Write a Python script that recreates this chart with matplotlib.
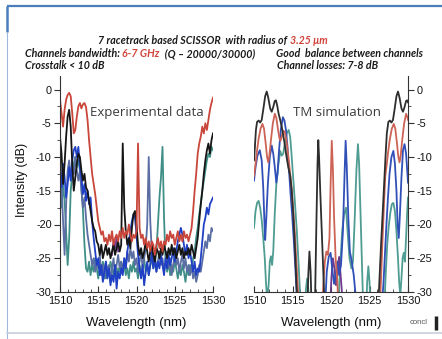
import numpy as np
import matplotlib
matplotlib.use("Agg")
import matplotlib.pyplot as plt
from matplotlib.ticker import MultipleLocator
from matplotlib.transforms import offset_copy

plt.rcParams['axes.unicode_minus'] = False
plt.rcParams['font.family'] = ['Liberation Sans', 'DejaVu Sans']

wl = np.linspace(1510, 1530, 101)

exp_red = [-1.5, -3.5, -5.5, -3.0, -1.5, -0.8, -0.5, -1.0, -3.5, -6.5,
           -6.0, -4.0, -2.5, -2.0, -2.8, -2.2, -2.0, -2.6, -4.5, -7.5,
           -10.0, -12.5, -14.0, -15.5, -17.5, -19.5, -20.5, -21.5, -21.0, -22.5,
           -22.0, -23.0, -21.5, -22.5, -21.0, -23.0, -22.0, -21.5, -22.5, -21.0,
           -22.0, -20.5, -22.0, -21.0, -21.5, -20.0, -21.5, -22.5, -21.5, -22.0,
           -21.0, -8.0, -20.5, -22.0, -21.5, -23.0, -22.0, -23.5, -22.5, -24.0,
           -22.5, -23.0, -24.5, -23.0, -22.0, -23.5, -22.5, -24.0, -22.5, -23.0,
           -21.5, -22.5, -21.0, -22.0, -21.5, -23.0, -22.0, -21.0, -22.5, -21.5,
           -22.5, -21.0, -22.0, -21.5, -22.5, -21.5, -20.5, -18.0, -15.0, -12.5,
           -9.5, -8.0, -7.0, -5.5, -6.5, -5.0, -6.0, -4.5, -3.0, -2.0,
           -1.2]

exp_black = [-7.0, -9.5, -14.0, -11.0, -7.0, -4.0, -3.0, -5.5, -11.0, -15.0,
             -13.0, -11.0, -9.5, -10.0, -12.0, -13.5, -12.5, -14.5, -15.0, -16.5,
             -18.0, -19.5, -20.5, -21.0, -22.5, -23.0, -24.5, -23.0, -25.0, -24.0,
             -23.0, -24.5, -23.5, -25.0, -24.0, -23.0, -24.5, -23.5, -22.5, -24.0,
             -23.0, -8.0, -17.5, -21.0, -23.0, -22.0, -23.5, -20.5, -18.5, -18.0,
             -20.0, -23.0, -24.5, -23.5, -25.0, -24.0, -22.5, -24.0, -25.5, -24.0,
             -23.0, -24.5, -25.5, -23.5, -24.0, -25.0, -23.5, -24.5, -23.0, -24.0,
             -25.0, -23.5, -24.5, -23.0, -24.5, -23.5, -25.0, -24.0, -23.0, -24.5,
             -23.5, -25.0, -24.0, -24.5, -23.5, -24.5, -23.0, -24.0, -25.0, -23.5,
             -22.0, -19.5, -17.0, -15.0, -12.5, -10.5, -9.0, -8.0, -9.5, -7.5,
             -6.5]

exp_blue = [-12.0, -14.5, -11.0, -13.0, -16.0, -14.0, -11.5, -13.5, -10.5, -9.0,
            -8.5, -10.0, -8.5, -11.5, -13.0, -15.5, -14.0, -16.5, -15.0, -17.0,
            -16.0, -19.5, -22.0, -24.0, -26.0, -25.0, -27.5, -26.0, -28.5, -27.0,
            -25.5, -28.0, -26.5, -29.0, -27.5, -28.5, -26.0, -29.5, -27.0, -28.0,
            -26.5, -27.5, -25.0, -26.5, -24.0, -22.5, -21.0, -19.5, -18.5, -19.0,
            -21.5, -24.5, -26.5, -28.0, -26.0, -29.0, -27.0, -25.5, -27.5, -26.0,
            -24.0, -26.5, -25.0, -27.0, -25.5, -26.5, -24.5, -26.0, -27.5, -25.0,
            -26.5, -24.5, -26.0, -25.0, -23.5, -25.5, -24.0, -22.5, -21.5, -20.5,
            -21.5, -23.0, -24.5, -23.0, -25.0, -24.0, -25.5, -27.0, -25.5, -27.5,
            -26.5, -27.0, -25.0, -22.5, -20.0, -19.0, -17.5, -18.5, -17.0, -16.5,
            -16.0]

exp_slate = [-11.0, -14.0, -19.5, -24.5, -17.0, -12.0, -10.5, -13.0, -11.5, -12.5,
             -10.0, -12.0, -13.5, -12.0, -15.0, -17.5, -16.0, -19.0, -21.5, -23.0,
             -24.5, -26.0, -25.0, -27.0, -25.5, -26.5, -24.5, -27.5, -26.0, -28.0,
             -25.5, -27.0, -26.0, -28.5, -26.5, -25.0, -27.5, -26.0, -24.5, -26.5,
             -25.5, -27.0, -25.0, -26.5, -24.0, -25.5, -23.5, -25.0, -24.0, -26.0,
             -25.0, -27.0, -25.5, -24.0, -26.5, -25.0, -23.5, -20.0, -10.0, -19.5,
             -24.0, -26.0, -24.5, -27.0, -25.5, -24.0, -26.0, -25.0, -27.0, -25.5,
             -24.0, -26.5, -25.0, -27.5, -26.0, -24.5, -26.0, -25.0, -27.0, -25.5,
             -24.5, -26.5, -25.0, -27.0, -26.0, -27.5, -26.0, -28.0, -27.0, -28.5,
             -27.5, -26.0, -27.0, -25.5, -24.0, -22.5, -23.5, -21.5, -22.5, -20.5,
             -21.0]

exp_teal = [-15.0, -17.5, -14.0, -16.5, -21.0, -26.0, -22.0, -15.0, -12.5, -11.0,
            -10.0, -11.5, -10.5, -12.0, -14.5, -18.0, -23.0, -26.5, -27.0, -25.5,
            -27.5, -26.0, -27.0, -25.0, -26.5, -28.0, -26.0, -27.5, -25.5, -26.5,
            -28.0, -26.5, -27.5, -25.5, -26.5, -27.5, -26.0, -28.0, -26.5, -27.0,
            -25.5, -27.0, -26.0, -27.5, -26.5, -28.0, -26.0, -27.0, -25.5, -27.0,
            -26.5, -28.0, -26.0, -27.5, -26.5, -25.0, -27.0, -26.0, -27.5, -26.0,
            -25.0, -26.5, -25.5, -24.0, -20.0, -16.0, -13.0, -8.5, -19.0, -25.5,
            -27.0, -25.5, -27.5, -26.0, -27.0, -25.5, -26.5, -28.0, -26.5, -27.5,
            -26.0, -27.0, -28.5, -26.5, -27.5, -26.0, -27.0, -25.0, -24.0, -22.0,
            -20.5, -18.5, -17.0, -15.0, -13.5, -12.0, -10.5, -9.5, -10.0, -8.5,
            -9.0]

exp_purple_x = [1516.8, 1517.0, 1517.2, 1517.4, 1517.6]
exp_purple = [-24.5, -22.5, -23.5, -21.8, -24.0]

# ---- TM simulation (right panel); -33 means below the -30 floor ----
tm_black_x = [1510.0, 1510.1, 1510.25, 1510.4, 1510.6, 1510.8, 1511.0, 1511.2, 1511.45, 1511.65,
              1511.85, 1512.1, 1512.3, 1512.5, 1512.7, 1512.85, 1513.0, 1513.2, 1513.4, 1513.6,
              1513.8, 1514.0, 1514.2, 1514.45, 1514.7, 1514.9, 1515.1, 1515.3, 1515.5, 1515.7,
              1516.9, 1517.05, 1517.2, 1517.35, 1517.5, 1517.9, 1518.1, 1518.25, 1518.35, 1518.45,
              1518.6, 1518.8, 1519.0, 1519.2, 1526.1, 1526.3, 1526.5, 1526.7, 1526.9, 1527.1,
              1527.25, 1527.45, 1527.65, 1527.85, 1528.05, 1528.25, 1528.5, 1528.7, 1528.9, 1529.15,
              1529.35, 1529.55, 1529.75, 1529.9, 1530.0]
tm_black = [-10.5, -8.8, -6.0, -4.8, -4.6, -4.9, -4.5, -3.0, -1.0, -0.3,
            -1.2, -2.8, -3.3, -2.6, -1.7, -1.6, -2.3, -3.6, -4.5, -5.5,
            -6.8, -8.2, -9.8, -11.5, -12.8, -15.0, -18.5, -23.0, -28.5, -33,
            -33, -27.5, -24.0, -27.0, -33, -33, -20.0, -11.0, -7.5, -10.0,
            -15.0, -21.0, -27.0, -33, -33, -28.0, -23.0, -18.5, -14.0, -9.5,
            -6.5, -4.8, -4.6, -4.9, -4.5, -3.0, -1.0, -0.3, -1.2, -2.8,
            -3.3, -2.6, -1.7, -1.6, -1.9]

tm_red_x = [1510.0, 1510.2, 1510.4, 1510.6, 1510.85, 1511.1, 1511.3, 1511.5, 1511.7, 1511.85,
            1512.0, 1512.2, 1512.45, 1512.7, 1512.9, 1513.1, 1513.3, 1513.45, 1513.6, 1513.8,
            1514.0, 1514.2, 1514.45, 1514.7, 1514.9, 1515.1, 1515.3, 1515.5, 1515.75, 1515.9,
            1518.8, 1519.0, 1519.2, 1519.4, 1519.6, 1519.8, 1519.95, 1520.1, 1520.25, 1520.4,
            1520.6, 1520.8, 1521.0, 1526.3, 1526.5, 1526.7, 1526.9, 1527.05, 1527.25, 1527.45,
            1527.65, 1527.9, 1528.15, 1528.35, 1528.55, 1528.75, 1528.9, 1529.05, 1529.25, 1529.5,
            1529.75, 1529.95, 1530.0]
tm_red = [-12.8, -11.0, -9.0, -7.3, -5.8, -5.1, -5.8, -7.8, -10.0, -10.8,
          -9.8, -7.5, -5.0, -3.6, -4.2, -5.8, -7.2, -7.6, -7.0, -6.1,
          -6.3, -7.5, -9.8, -12.5, -14.8, -18.0, -21.2, -25.5, -30.5, -33,
          -33, -29.0, -25.5, -24.0, -24.5, -22.0, -14.0, -7.6, -12.0, -19.0,
          -25.0, -28.0, -33, -33, -28.0, -22.0, -16.5, -12.8, -11.0, -9.0,
          -7.3, -5.8, -5.1, -5.8, -7.8, -10.0, -10.8, -9.8, -7.5, -5.0,
          -3.6, -4.2, -4.5]

tm_blue_x = [1510.0, 1510.2, 1510.45, 1510.75, 1511.0, 1511.2, 1511.35, 1511.45, 1511.6, 1511.8,
             1512.05, 1512.3, 1512.5, 1512.7, 1512.9, 1513.05, 1513.25, 1513.5, 1513.75, 1513.95,
             1514.15, 1514.35, 1514.55, 1514.75, 1514.95, 1515.15, 1515.35, 1515.55, 1515.7,
             1519.2, 1519.45, 1519.7, 1519.95, 1520.15, 1520.4, 1520.65, 1520.85, 1521.05, 1521.3,
             1521.55, 1521.75, 1521.9, 1522.05, 1522.25, 1522.45, 1522.7, 1522.95, 1523.2, 1523.35,
             1526.5, 1526.8, 1527.0, 1527.2, 1527.4, 1527.6, 1527.85, 1528.1, 1528.3, 1528.5,
             1528.65, 1528.8, 1528.95, 1529.15, 1529.35, 1529.55, 1529.75, 1529.9, 1530.0]
tm_blue = [-13.5, -11.5, -9.8, -9.0, -10.5, -14.5, -19.5, -22.3, -19.0, -14.0,
           -10.0, -8.3, -9.5, -11.5, -13.8, -12.5, -9.0, -5.8, -4.1, -4.6,
           -6.0, -8.5, -12.0, -15.5, -18.5, -22.0, -26.0, -30.5, -33,
           -33, -27.0, -24.8, -24.2, -26.5, -28.8, -27.0, -25.5, -27.5, -26.0,
           -21.0, -13.0, -7.6, -11.5, -19.0, -24.0, -25.5, -27.5, -30.5, -33,
           -33, -29.0, -24.5, -20.0, -16.0, -12.5, -10.0, -9.1, -11.0, -15.0,
           -20.0, -22.0, -18.5, -13.0, -9.0, -8.1, -9.5, -12.0, -13.8]

tm_teal_x = [1510.0, 1510.2, 1510.4, 1510.6, 1510.8, 1511.0, 1511.2, 1511.4, 1511.55, 1511.7,
             1511.9, 1512.05, 1512.2, 1512.35, 1512.5, 1512.7, 1512.9, 1513.15, 1513.4, 1513.6,
             1513.8, 1514.0, 1514.25, 1514.5, 1514.7, 1514.9, 1515.1, 1515.3, 1515.55, 1515.75,
             1516.0, 1516.15, 1516.6, 1516.75, 1516.9, 1517.05, 1517.2, 1520.9, 1521.2, 1521.45,
             1521.7, 1521.95, 1522.15, 1522.4, 1522.65, 1522.85, 1523.05, 1523.3, 1523.5, 1523.65,
             1523.85, 1524.05, 1524.2, 1524.55, 1524.7, 1524.85, 1525.0, 1525.15, 1526.9, 1527.1,
             1527.3, 1527.5, 1527.7, 1527.9, 1528.1, 1528.3, 1528.5, 1528.7, 1528.85, 1529.0,
             1529.15, 1529.3, 1529.45, 1529.6, 1529.75, 1529.9, 1530.0]
tm_teal = [-20.5, -18.0, -16.8, -16.5, -17.5, -19.3, -22.0, -25.0, -28.5, -31.0,
           -29.0, -25.5, -24.7, -26.0, -24.0, -18.3, -14.0, -11.3, -9.1, -9.8,
           -9.5, -8.0, -6.5, -6.0, -7.0, -10.0, -13.3, -16.5, -20.7, -25.0,
           -30.5, -33, -33, -29.5, -28.0, -29.5, -33, -33, -26.0, -21.0,
           -18.5, -17.5, -21.0, -25.0, -26.5, -25.5, -20.0, -12.0, -8.1, -11.0,
           -19.0, -27.0, -33, -33, -28.5, -26.2, -28.5, -33, -33, -27.5,
           -23.0, -20.2, -18.3, -17.0, -16.8, -18.0, -21.0, -25.0, -28.5, -30.5,
           -28.0, -25.0, -24.2, -25.5, -22.0, -18.0, -16.0]

tm_purple_x = [1519.85, 1520.05, 1520.25, 1520.45, 1520.65, 1520.85, 1521.05, 1521.25, 1521.45, 1521.6]
tm_purple = [-33, -28.0, -25.0, -26.5, -29.0, -26.5, -24.8, -27.5, -30.5, -33]

fig = plt.figure(figsize=(4.42, 3.39), dpi=100)
fig.patch.set_facecolor('white')

# slide background drawn in pixel coordinates
bg = fig.add_axes([0, 0, 1, 1])
bg.set_xlim(0, 442)
bg.set_ylim(339, 0)
bg.axis('off')
bg.plot([7, 442], [6, 6], color='#4a7ebb', lw=1.6, solid_capstyle='butt')
bg.plot([7, 7], [6, 32], color='#4a7ebb', lw=1.8, solid_capstyle='butt')
bg.plot([7, 7], [32, 339], color='#9db7de', lw=0.8)
bg.plot([7, 442], [333, 333], color='#c9ced9', lw=1.2)
bg.text(419, 322, 'concl', fontsize=5.5, color='#555555', ha='center', va='center')
bg.plot([436, 436], [316, 330], color='#222222', lw=2.5, solid_capstyle='butt')

hdr = dict(family=['Lato', 'DejaVu Sans'], weight='bold', style='italic', fontsize=7.7)
red_txt = '#d2433b'
renderer = fig.canvas.get_renderer()


def chain(x, y, parts):
    # pieces of one header line share a baseline; each starts where the last ended
    dx = 0.0
    for s, c in parts:
        tr = offset_copy(bg.transData, fig=fig, x=dx, y=0, units='dots')
        t = bg.text(x, y, s, color=c, ha='left', va='baseline', transform=tr, **hdr)
        dx += t.get_window_extent(renderer).width


chain(98, 44, [('7 racetrack based SCISSOR  with radius of ', '#1a1a1a'), ('3.25 \u03bcm', red_txt)])
chain(25, 57, [('Channels bandwidth: ', '#1a1a1a'), ('6-7 GHz', red_txt),
               ('  (Q \u2013 20000/30000)', '#1a1a1a')])
chain(276, 57, [('Good  balance between channels', '#1a1a1a')])
chain(25, 69, [('Crosstalk < 10 dB', '#1a1a1a')])
chain(277, 69, [('Channel losses: 7-8 dB', '#1a1a1a')])

ax1 = fig.add_axes([60 / 442, 47 / 339, 153 / 442, 216 / 339])
ax2 = fig.add_axes([254 / 442, 47 / 339, 154 / 442, 216 / 339])

lw = 1.3
ax1.plot(wl, exp_teal, color='#3f8f88', lw=lw)
ax1.plot(wl, exp_slate, color='#5b6ea3', lw=lw)
ax1.plot(wl, exp_blue, color='#1f3fc4', lw=lw)
ax1.plot(exp_purple_x, exp_purple, color='#7b3f96', lw=lw)
ax1.plot(wl, exp_black, color='#151515', lw=lw)
ax1.plot(wl, exp_red, color='#c9463a', lw=lw)

ax2.plot(tm_teal_x, tm_teal, color='#4f9c92', lw=1.3)
ax2.plot(tm_purple_x, tm_purple, color='#6f3a8e', lw=1.3)
ax2.plot(tm_blue_x, tm_blue, color='#3050b8', lw=1.3)
ax2.plot(tm_red_x, tm_red, color='#cd6355', lw=1.3)
ax2.plot(tm_black_x, tm_black, color='#2e2e2e', lw=1.3)

for ax in (ax1, ax2):
    ax.set_facecolor('none')
    ax.set_xlim(1510, 1530)
    ax.set_ylim(-30, 2)
    ax.xaxis.set_major_locator(MultipleLocator(5))
    ax.xaxis.set_minor_locator(MultipleLocator(1))
    ax.yaxis.set_major_locator(MultipleLocator(5))
    ax.yaxis.set_minor_locator(MultipleLocator(2.5))
    ax.tick_params(axis='x', which='both', direction='in', colors='#333333',
                   labelcolor='#111111', labelsize=7.8, pad=3)
    ax.tick_params(axis='x', which='major', length=4, width=0.8)
    ax.tick_params(axis='x', which='minor', length=2, width=0.6)
    ax.tick_params(axis='y', which='both', direction='out', colors='#333333',
                   labelcolor='#111111', labelsize=7.8, pad=2)
    ax.tick_params(axis='y', which='major', length=4, width=0.8)
    ax.tick_params(axis='y', which='minor', length=2, width=0.6)
    ax.spines['top'].set_visible(False)
    for s in ax.spines.values():
        s.set_color('#333333')
        s.set_linewidth(0.8)
    ax.set_xlabel('Wavelength (nm)', fontsize=9.5, color='#111111')
    ax.xaxis.set_label_coords(0.5, -0.115)

ax1.spines['right'].set_visible(False)
ax1.set_ylabel('Intensity (dB)', fontsize=9, color='#111111')
ax1.yaxis.set_label_coords(-0.21, 0.52)

ax2.spines['left'].set_visible(False)
ax2.yaxis.tick_right()
ax2.tick_params(axis='y', which='both', left=False)

ax1.text(0.196, 0.829, 'Experimental data', transform=ax1.transAxes, va='center', ha='left',
         family=['Open Sans', 'DejaVu Sans'], fontsize=9.5, color='#3a3a3a')
ax2.text(0.253, 0.829, 'TM simulation', transform=ax2.transAxes, va='center', ha='left',
         family=['Open Sans', 'DejaVu Sans'], fontsize=9.5, color='#3a3a3a')

fig.savefig('out.png', dpi=100, facecolor='white')
